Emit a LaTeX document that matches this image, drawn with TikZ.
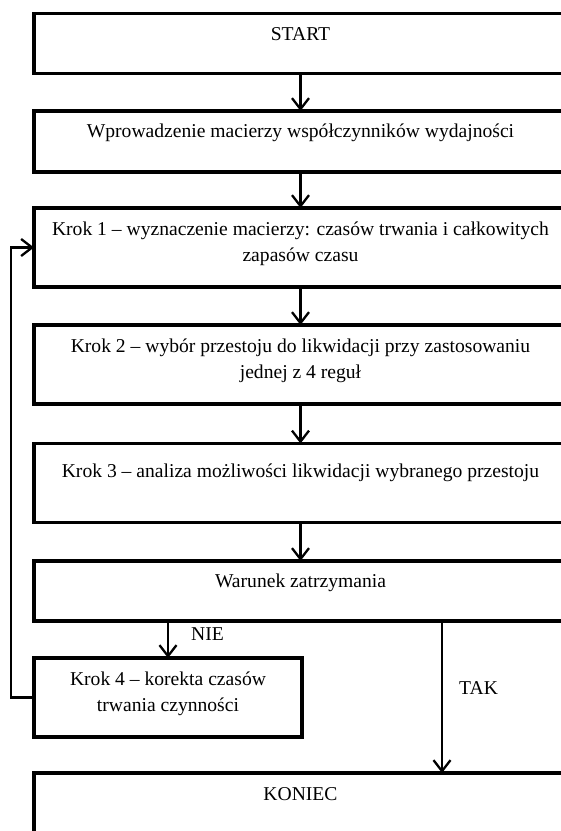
\documentclass[tikz,border=0pt]{standalone}
\usepackage{fontspec}
\setmainfont{Liberation Serif}
\usetikzlibrary{calc,arrows.meta}

\begin{document}
\begin{tikzpicture}[%
    x=1pt, y=-1pt,
    >={Straight Barb[length=11pt,width=17pt]},
    blok/.style={draw, line width=3.4pt, inner sep=0pt, outer sep=0pt,
      anchor=north west, minimum width=533pt, minimum height=79pt},
    opis/.style={anchor=base, align=center, inner sep=0pt,
      font=\fontsize{19.6}{26}\selectfont},
    strzalka/.style={->, line width=2.3pt}
  ]
    \useasboundingbox (0,0) rectangle (561,831);
    \clip (0,0) rectangle (561,831);

    \node[blok, minimum height=60pt] (start)   at (34,13.5)  {};
    \node[blok, minimum height=61pt] (wczyt)   at (34,111)   {};
    \node[blok]                      (krok1)   at (34,208)   {};
    \node[blok]                      (krok2)   at (34,325)   {};
    \node[blok]                      (krok3)   at (34,443.5) {};
    \node[blok, minimum height=60pt] (warunek) at (34,561)   {};
    \node[blok, minimum width=268pt] (krok4)   at (34,658)   {};
    \node[blok]                      (koniec)  at (34,773)   {};

    \node[opis] (opis-start)   at ($(start.north)+(0,27)$)   {START};
    \node[opis] (opis-wczyt)   at ($(wczyt.north)+(0,26)$)   {Wprowadzenie macierzy współczynników wydajności};
    \node[opis] (opis-krok1)   at ($(krok1.north)+(0,53)$)   {Krok 1 – wyznaczenie macierzy: czasów trwania i całkowitych\\ zapasów czasu};
    \node[opis] (opis-krok2)   at ($(krok2.north)+(0,53)$)   {Krok 2 – wybór przestoju do likwidacji przy zastosowaniu\\ jednej z 4 reguł};
    \node[opis] (opis-krok3)   at ($(krok3.north)+(0,34)$)   {Krok 3 – analiza możliwości likwidacji wybranego przestoju};
    \node[opis] (opis-warunek) at ($(warunek.north)+(0,26)$) {Warunek zatrzymania};
    \node[opis] (opis-krok4)   at ($(krok4.north)+(0,53)$)   {Krok 4 – korekta czasów\\ trwania czynności};
    \node[opis] (opis-koniec)  at ($(koniec.north)+(0,27)$)  {KONIEC};

    \coordinate (tak-a) at ($(warunek.south west)+(408,0)$);
    \coordinate (tak-b) at ($(koniec.north west)+(408,0)$);
    \node[opis, anchor=base west] (nie) at ($(warunek.south west)+(157,19)$) {NIE};
    \node[opis, anchor=base west] (tak) at ($(tak-a)+(17,73)$)               {TAK};

    \path[strzalka] (start)                     edge (wczyt)
                    (wczyt)                     edge (krok1)
                    (krok1)                     edge (krok2)
                    (krok2)                     edge (krok3)
                    (krok3)                     edge (warunek)
                    (warunek.south -| krok4.north) edge (krok4.north)
                    (tak-a)                     edge (tak-b);

    \draw[strzalka] (krok4.west) -- ++(-23,0) |- (krok1.west);
\end{tikzpicture}
\end{document}
